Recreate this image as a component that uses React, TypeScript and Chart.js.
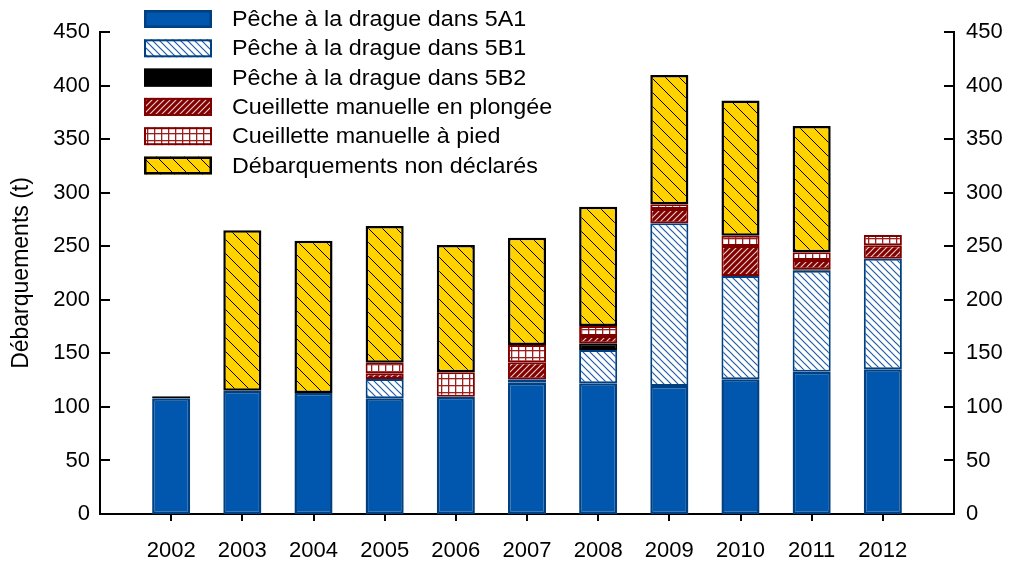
import React, { useEffect, useRef } from 'react';
import { Chart, registerables } from 'chart.js';

Chart.register(...registerables);

const years = ['2002', '2003', '2004', '2005', '2006', '2007', '2008', '2009', '2010', '2011', '2012'];
const dredge5A1 = [108, 115, 113, 108, 109.5, 122.6, 122, 119.5, 125.7, 132.9, 135.1];
const dredge5B1 = [null, null, null, 18, null, 3.2, 31.1, 151.9, 96.5, 94.2, 103.3];
const dredge5B2 = [2, null, null, null, null, null, 6.3, null, null, 1.5, null];
const diving = [null, null, null, 5.4, null, 15.8, 6.8, 13.4, 28, 8.5, 12.6];
const byFoot = [null, null, null, 9.8, 22.8, 16.2, 9.3, 4.4, 9.6, 7.2, 9.5];
const undeclared = [null, 150, 142, 127.7, 118.8, 100.2, 111.4, 120.7, 126.2, 117.9, null];
const seriesLabels = [
  'Pêche à la drague dans 5A1',
  'Pêche à la drague dans 5B1',
  'Pêche à la drague dans 5B2',
  'Cueillette manuelle en plongée',
  'Cueillette manuelle à pied',
  'Débarquements non déclarés',
];

const FONT = '"Liberation Sans", Arial, sans-serif';

function diagPattern(bg: string, fg: string, dir: 'back' | 'fwd', s: number, lw: number) {
  const c = document.createElement('canvas');
  c.width = s;
  c.height = s;
  const g = c.getContext('2d')!;
  g.fillStyle = bg;
  g.fillRect(0, 0, s, s);
  g.strokeStyle = fg;
  g.lineWidth = lw;
  g.beginPath();
  for (let k = -s; k <= 2 * s; k += s) {
    if (dir === 'back') {
      g.moveTo(-1, k - 1);
      g.lineTo(s + 1, k + s + 1);
    } else {
      g.moveTo(-1, k + 1);
      g.lineTo(s + 1, k - s - 1);
    }
  }
  g.stroke();
  return g.createPattern(c, 'repeat')!;
}

function gridPattern(bg: string, fg: string, w: number, h: number, lw: number) {
  const c = document.createElement('canvas');
  c.width = w;
  c.height = h;
  const g = c.getContext('2d')!;
  g.fillStyle = bg;
  g.fillRect(0, 0, w, h);
  g.fillStyle = fg;
  g.fillRect(0, 0, lw, h);
  g.fillRect(0, 0, w, lw);
  return g.createPattern(c, 'repeat')!;
}

const pad = (a: (number | null)[]) => [null, ...a, null];

const legendPlugin = {
  id: 'customLegend',
  afterDraw(chart: any) {
    const ctx = chart.ctx as CanvasRenderingContext2D;
    chart.data.datasets.forEach((ds: any, i: number) => {
      const cy = 19 + i * 29.3;
      const x = 144, w = 68, h = 18;
      ctx.save();
      ctx.fillStyle = ds.backgroundColor;
      ctx.fillRect(x, cy - h / 2, w, h);
      ctx.lineWidth = ds.borderWidth;
      ctx.strokeStyle = ds.borderColor;
      const bw = ds.borderWidth;
      ctx.strokeRect(x + bw / 2, cy - h / 2 + bw / 2, w - bw, h - bw);
      ctx.fillStyle = '#000';
      ctx.font = `22px ${FONT}`;
      ctx.textBaseline = 'middle';
      ctx.textAlign = 'left';
      ctx.translate(232, cy + 1);
      ctx.scale(1.06, 1);
      ctx.fillText(ds.label, 0, 0);
      ctx.restore();
    });
  },
};

const inwardTicks = {
  id: 'inwardTicks',
  afterDatasetsDraw(chart: any) {
    const ctx = chart.ctx as CanvasRenderingContext2D;
    const { left, right } = chart.chartArea;
    const y = chart.scales.y;
    ctx.save();
    ctx.strokeStyle = '#000';
    ctx.lineWidth = 2;
    ctx.beginPath();
    y.ticks.forEach((t: any) => {
      const py = Math.round(y.getPixelForValue(t.value));
      ctx.moveTo(left, py);
      ctx.lineTo(left + 10, py);
      ctx.moveTo(right - 10, py);
      ctx.lineTo(right, py);
    });
    ctx.stroke();
    ctx.restore();
  },
};

export default function App() {
  const ref = useRef<HTMLCanvasElement>(null);
  useEffect(() => {
    const blue = '#0057AD';
    const blueBorder = '#003F80';
    const red = '#800000';
    const p5B1 = diagPattern('#FFFFFF', '#1F5CA8', 'back', 7, 1.2);
    const pDiving = diagPattern(red, '#F2D0D0', 'fwd', 6, 1.1);
    const pFoot = gridPattern('#FFFFFF', '#9A2020', 7, 7, 1.3);
    const pUndecl = diagPattern('#FFD200', '#000000', 'back', 14, 1);
    const labels = ['', ...years, ''];
    const chart = new Chart(ref.current!, {
      type: 'bar',
      data: {
        labels,
        datasets: [
          { label: seriesLabels[0], data: pad(dredge5A1), backgroundColor: blue, borderColor: blueBorder, borderWidth: 2.5 },
          { label: seriesLabels[1], data: pad(dredge5B1), backgroundColor: p5B1, borderColor: blueBorder, borderWidth: 2 },
          { label: seriesLabels[2], data: pad(dredge5B2), backgroundColor: '#000000', borderColor: '#000000', borderWidth: 2 },
          { label: seriesLabels[3], data: pad(diving), backgroundColor: pDiving, borderColor: red, borderWidth: 2 },
          { label: seriesLabels[4], data: pad(byFoot), backgroundColor: pFoot, borderColor: red, borderWidth: 2 },
          { label: seriesLabels[5], data: pad(undeclared), backgroundColor: pUndecl, borderColor: '#000000', borderWidth: 2.5 },
        ] as any,
      },
      options: {
        animation: false,
        responsive: false,
        events: [],
        datasets: { bar: { barPercentage: 0.535, categoryPercentage: 1, borderSkipped: false } } as any,
        layout: { padding: { top: 32, left: 0, right: 0, bottom: 0 } },
        plugins: { legend: { display: false }, tooltip: { enabled: false } },
        scales: {
          x: {
            type: 'category',
            stacked: true,
            offset: false,
            grid: {
              display: true,
              offset: false,
              drawOnChartArea: false,
              drawTicks: true,
              tickLength: 7,
              lineWidth: 2,
              color: (c: any) => (c.index === 0 || c.index === labels.length - 1 ? 'rgba(0,0,0,0)' : '#000'),
            },
            border: { display: true, color: '#000', width: 2 },
            ticks: { color: '#000', font: { family: FONT, size: 22 }, padding: 17, maxRotation: 0, autoSkip: false },
            afterFit: (s: any) => { s.height = 48; },
          },
          y: {
            stacked: true,
            min: 0,
            max: 450,
            position: 'left',
            grid: { display: false, drawTicks: false },
            border: { display: true, color: '#000', width: 2 },
            ticks: { stepSize: 50, color: '#000', font: { family: FONT, size: 22 }, padding: 10 },
            title: { display: true, text: 'Débarquements (t)', color: '#000', font: { family: FONT, size: 23 }, padding: { top: 8, bottom: 0 } },
            afterFit: (s: any) => { s.width = 100; },
          },
          y2: {
            min: 0,
            max: 450,
            position: 'right',
            grid: { display: false, drawTicks: false },
            border: { display: true, color: '#000', width: 2 },
            ticks: { stepSize: 50, color: '#000', font: { family: FONT, size: 22 }, padding: 12 },
            afterFit: (s: any) => { s.width = 57; },
          },
        },
      } as any,
      plugins: [inwardTicks, legendPlugin],
    });
    return () => chart.destroy();
  }, []);
  return (
    <div style={{ position: 'absolute', left: 0, top: 0, width: 1011, height: 562, background: '#fff' }}>
      <canvas ref={ref} width={1011} height={562} />
    </div>
  );
}
